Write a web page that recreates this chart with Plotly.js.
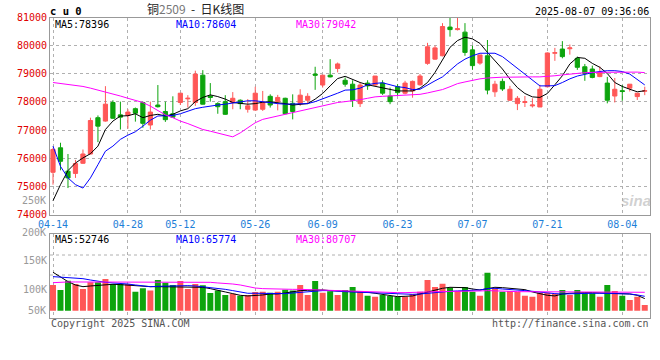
<!DOCTYPE html>
<html><head><meta charset="utf-8">
<script src="https://cdn.plot.ly/plotly-3.0.1.min.js"></script>
<style>html,body{margin:0;padding:0;background:#fff}#chart{width:660px;height:360px}</style>
</head><body><div id="chart"></div>
<script>
const dates = ['04-14','04-15','04-16','04-17','04-18','04-21','04-22','04-23','04-24','04-25','04-28','04-29','04-30',
'05-06','05-07','05-08','05-09','05-12','05-13','05-14','05-15','05-16','05-19','05-20','05-21','05-22','05-23','05-26','05-27','05-28','05-29','05-30',
'06-03','06-04','06-05','06-06','06-09','06-10','06-11','06-12','06-13','06-16','06-17','06-18','06-19','06-20','06-23','06-24','06-25','06-26','06-27','06-30',
'07-01','07-02','07-03','07-04','07-07','07-08','07-09','07-10','07-11','07-14','07-15','07-16','07-17','07-18','07-21','07-22','07-23','07-24','07-25','07-28','07-29','07-30','07-31',
'08-01','08-04','08-05','08-06','08-07'];
const tickDates = ['04-14','04-28','05-12','05-26','06-09','06-23','07-07','07-21','08-04'];

const openP  = [75500,76370,75540,75460,75820,76150,77440,77320,77980,77540,77520,77760,77980,77180,77890,77660,77580,77980,78110,77980,
78950,78210,77940,78010,77980,78060,77740,77710,77740,78200,78010,78130,77950,77940,78060,78990,78600,78950,79190,78770,
78630,77940,78670,78600,78670,78210,78540,78310,78390,78610,79370,79520,79640,80660,80570,80480,79850,79380,79640,78360,
78730,78060,77940,77980,77860,77820,78540,79730,79880,79890,79550,79250,79170,78900,78670,78210,78400,78490,78190,78380];
const highP  = [76370,76550,76150,75940,76310,77440,77520,78560,78060,78010,77740,77800,78010,78010,78600,78010,78200,78310,78240,79110,
79130,78670,77990,78240,78350,78090,78100,78540,78390,78270,78250,78150,78270,78450,78310,79250,78960,79520,79400,78870,
78770,78690,78770,78920,78770,78510,78630,78750,78760,78990,80100,80000,80800,80990,80990,80800,80000,79670,80200,78750,
78830,78570,78210,78210,78130,78610,79760,79920,80160,80040,79610,79350,79290,79260,78890,78850,78600,78630,78310,78540];
const lowP   = [75060,75570,74940,75300,75800,76140,76570,77300,77400,77020,77050,77300,77080,77020,77800,77290,77440,77890,77800,77860,
77910,78010,77580,77540,77740,77740,77620,77700,77680,77800,77700,77580,77380,77860,77940,78430,78510,78870,79050,78540,
77820,77820,78430,78570,78250,77920,78210,78270,78150,78580,79320,79500,79620,80320,80540,79640,79140,79320,78270,78180,
78390,78040,77710,77820,77800,77820,78510,79460,79550,79680,79140,78750,78840,78880,77950,77980,78040,78370,78070,78240];
const closeP = [76310,75890,75300,75810,76150,77340,77140,77920,77420,77460,77640,77600,77240,77640,77830,77370,77460,78310,78130,78990,
77920,78160,77830,77560,78130,77940,77860,78310,77980,77890,78160,77580,77660,78240,78200,78950,78950,78890,79350,78630,
78060,78600,78570,78920,78310,78010,78330,78670,78730,78920,79960,79920,80680,80570,80600,79760,79290,79670,78420,78630,
78460,78450,78130,78010,77890,78450,79740,79750,79610,79920,79230,79010,78870,79050,78060,78450,78370,78630,78310,78400];

const ma5  = [74490,75060,75560,75830,76010,76160,76430,77020,77320,77500,77510,77580,77440,77520,77560,77500,77560,77680,77760,78010,
78160,78250,78190,78100,77980,77940,77920,77940,77990,78000,77980,77940,77890,77920,77940,78100,78300,78570,78830,78910,
78790,78690,78610,78550,78490,78450,78390,78390,78390,78490,78690,79050,79520,79940,80180,80300,80240,80080,79760,79460,
79170,78810,78510,78300,78180,78160,78300,78610,78930,79350,79580,79550,79370,79230,79010,78690,78550,78450,78360,78396];
const ma10 = [76430,75710,75300,75060,74940,75300,75770,76250,76430,76670,76820,76940,77140,77350,77500,77520,77520,77580,77680,77760,
77810,77860,77890,77920,77960,78010,78040,78040,78000,77980,77940,77920,77920,77940,77940,78010,78120,78210,78310,78420,
78430,78490,78610,78660,78680,78600,78540,78510,78440,78450,78610,78750,78890,79130,79350,79520,79640,79730,79730,79730,
79610,79400,79200,78990,78750,78570,78570,78580,78690,78820,78920,78990,79040,79080,79110,79110,79080,78990,78810,78604];
const ma30 = [78690,78660,78630,78600,78550,78490,78420,78370,78300,78210,78130,78060,77980,77850,77680,77540,77440,77320,77230,77120,
77020,76960,76900,76820,76760,76900,77090,77260,77380,77440,77510,77560,77640,77680,77740,77800,77860,77940,77980,78010,
78040,78080,78130,78180,78200,78210,78240,78250,78260,78270,78320,78370,78440,78540,78650,78710,78770,78820,78850,78870,
78880,78880,78890,78890,78890,78890,78900,78930,78960,78990,79010,79040,79050,79050,79060,79070,79070,79070,79060,79042];

const volume = [108600,100000,116100,110300,101700,113200,113200,119000,110300,110300,110300,97100,102900,98900,117200,112600,108600,115500,101700,110300,
108000,94800,98900,91400,93700,90200,91400,96600,97100,95400,97100,100600,98900,108600,91400,115500,95400,97700,91400,100000,
105200,97100,90200,88500,91400,89700,88500,88500,93100,97100,117200,105200,110900,104000,98300,105200,97100,90200,129900,102900,
97100,98300,97100,90200,88500,95400,95400,93100,100000,91400,100000,94300,94300,88500,108600,98300,90200,82800,88500,74100];
const volMa5 = [130500,123000,114400,108600,105700,106900,108000,109200,109800,109200,108000,106900,105700,105700,105700,105700,105700,105700,105700,105700,
104600,102300,100000,96600,93700,90800,89700,90200,91400,93100,93100,94800,97100,98900,99400,100000,100000,98900,98300,98300,
97700,97100,96000,94300,92500,90200,88500,89100,89700,93100,96600,100000,102900,104600,104600,104000,101700,100000,102300,104600,
104000,102900,102300,100600,96600,93100,90800,89700,93100,94300,95400,95400,95400,94800,94300,94300,93700,93100,90800,85100];
const volMa10 = [123000,122400,121800,120700,119500,117200,114900,113200,112100,111500,110300,108600,106900,105700,106300,106900,106900,107500,107500,106900,
105700,104000,102900,101100,98900,96000,94300,94300,94300,93700,93100,93700,94800,96000,97100,98300,98900,98900,97700,97100,
96600,96000,95400,94800,94300,93100,92500,92000,92500,93100,94300,96000,97100,97700,98300,98900,99400,100000,102300,102900,
101700,101100,100000,98900,97700,96000,94300,93700,93100,93700,94300,94300,94300,94300,94300,94300,93700,93100,91400,89100];
const volMa30 = [112600,113800,113800,113800,113800,113800,113800,113800,113800,113800,113800,113800,113800,113800,113800,113800,113800,113800,113800,113800,
113800,113200,112100,111500,110300,108600,105700,103400,102300,101700,101700,101700,101100,101100,100600,100000,99400,98900,98300,98300,
97700,97100,96600,96000,95400,95400,95400,95400,95400,96000,96600,97100,97100,97700,97700,98300,98300,98300,98900,98900,
98300,97700,97100,97100,96600,96600,96600,96600,96600,96600,96000,96000,96000,96000,96000,96000,96000,96000,96000,96000];
const volTicks = [100000, 150000];
const volTickText = ['100K', '150K'];

const RED = '#ff5757', GREEN = '#0da40d';
const MONO = 'DejaVu Sans Mono, Liberation Mono, monospace';
const VOL_BASE = 64300;
const W = 660, H = 360;
const px = v => v / W, py = v => 1 - v / H;
const xDom = [px(50), px(650)];
const GRID = '#b0b0b0';

const barColors = closeP.map((c, i) => c >= openP[i] ? RED : GREEN);

const traces = [
  {type:'candlestick', x:dates, open:openP, high:highP, low:lowP, close:closeP, xaxis:'x', yaxis:'y',
   increasing:{line:{color:RED,width:1}, fillcolor:RED},
   decreasing:{line:{color:GREEN,width:1}, fillcolor:GREEN},
   whiskerwidth:0, hoverinfo:'none', showlegend:false},
  {type:'scatter', mode:'lines', x:dates, y:ma5, xaxis:'x', yaxis:'y', line:{color:'#000000', width:1}, showlegend:false},
  {type:'scatter', mode:'lines', x:dates, y:ma10, xaxis:'x', yaxis:'y', line:{color:'#0000ff', width:1}, showlegend:false},
  {type:'scatter', mode:'lines', x:dates, y:ma30, xaxis:'x', yaxis:'y', line:{color:'#ff00ff', width:1}, showlegend:false},
  {type:'bar', x:dates, y:volume.map(v => v - VOL_BASE), base:VOL_BASE, xaxis:'x2', yaxis:'y2',
   marker:{color:barColors, line:{width:0}}, showlegend:false},
  {type:'scatter', mode:'lines', x:dates, y:volMa5, xaxis:'x2', yaxis:'y2', line:{color:'#000000', width:1}, showlegend:false},
  {type:'scatter', mode:'lines', x:dates, y:volMa10, xaxis:'x2', yaxis:'y2', line:{color:'#0000ff', width:1}, showlegend:false},
  {type:'scatter', mode:'lines', x:dates, y:volMa30, xaxis:'x2', yaxis:'y2', line:{color:'#ff00ff', width:1}, showlegend:false}
];

const axCommon = {showline:true, mirror:true, linecolor:'#999', linewidth:1, ticks:'', zeroline:false,
  gridcolor:GRID, griddash:'dot', gridwidth:1, fixedrange:true};

function ann(text, x, y, xanchor, color, size, extra) {
  return Object.assign({text:text, x:x, y:y, xref:'paper', yref:'paper', xanchor:xanchor, yanchor:'middle',
    showarrow:false, font:{family:MONO, size:size||10, color:color}, borderpad:0}, extra||{});
}

const layout = {
  width:W, height:H, margin:{l:0,r:0,t:0,b:0}, paper_bgcolor:'#fff', plot_bgcolor:'#fff',
  showlegend:false, hovermode:false, bargap:0.2, boxgap:0.2,
  xaxis: Object.assign({}, axCommon, {domain:xDom, anchor:'y', type:'category', range:[-0.4, 79.7],
    tickvals:tickDates, ticktext:tickDates, showgrid:true, rangeslider:{visible:false},
    tickfont:{family:MONO, size:10, color:'#1e80d8'}}),
  yaxis: Object.assign({}, axCommon, {domain:[py(214.5), py(17.5)], anchor:'x', range:[74000, 81000],
    dtick:1000, tickformat:'d', showgrid:true, tickfont:{family:MONO, size:10, color:'#e00000'}}),
  xaxis2: Object.assign({}, axCommon, {domain:xDom, anchor:'y2', type:'category', matches:'x',
    tickvals:tickDates, showticklabels:false, showgrid:true}),
  yaxis2: Object.assign({}, axCommon, {domain:[py(317.7), py(234)], anchor:'x2', range:[52200, 196500],
    tickvals:volTicks, ticktext:volTickText, showgrid:false, tickfont:{family:MONO, size:10, color:'#999'}}),
  shapes: [255, 275].map(v => ({type:'line', xref:'paper', yref:'paper', x0:xDom[0], x1:xDom[1], y0:py(v), y1:py(v),
    line:{color:GRID, width:1, dash:'dot'}, layer:'below'})),
  annotations: [
    ann('<b>c u 0</b>', px(49), py(11), 'left', '#000', 10.5),
    {text:'铜<span style="color:#777">2509</span> &nbsp;- &nbsp;日K线图', x:px(195), y:py(8.5), xref:'paper', yref:'paper',
     xanchor:'center', yanchor:'middle', showarrow:false, font:{family:'Noto Sans CJK SC', size:12, color:'#222'}},
    ann('2025-08-07 09:36:06', px(650), py(11), 'right', '#000', 10),
    ann('MA5:78396', px(54), py(24.5), 'left', '#000', 10),
    ann('MA10:78604', px(175), py(24.5), 'left', '#0000ff', 10),
    ann('MA30:79042', px(295), py(24.5), 'left', '#ff00ff', 10),
    ann('MA5:52746', px(54), py(239), 'left', '#000', 10),
    ann('MA10:65774', px(175), py(239), 'left', '#0000ff', 10),
    ann('MA30:80707', px(295), py(239), 'left', '#ff00ff', 10),
    ann('250K', px(47), py(200), 'right', '#999', 10),
    ann('200K', px(47), py(232), 'right', '#999', 10),
    ann('50K', px(47), py(310), 'right', '#999', 10),
    ann('Copyright 2025 SINA.COM', px(50), py(323.5), 'left', '#555', 10),
    ann('http://finance.sina.com.cn', px(650), py(323.5), 'right', '#555', 10),
    {text:'<b><i>sina</i></b>', x:px(636), y:py(200), xref:'paper', yref:'paper', xanchor:'center', yanchor:'middle',
     showarrow:false, font:{family:'Liberation Sans', size:15, color:'rgba(170,170,170,0.55)'}}
  ]
};

Plotly.newPlot('chart', traces, layout, {staticPlot:true, displayModeBar:false});
</script>
</body></html>
